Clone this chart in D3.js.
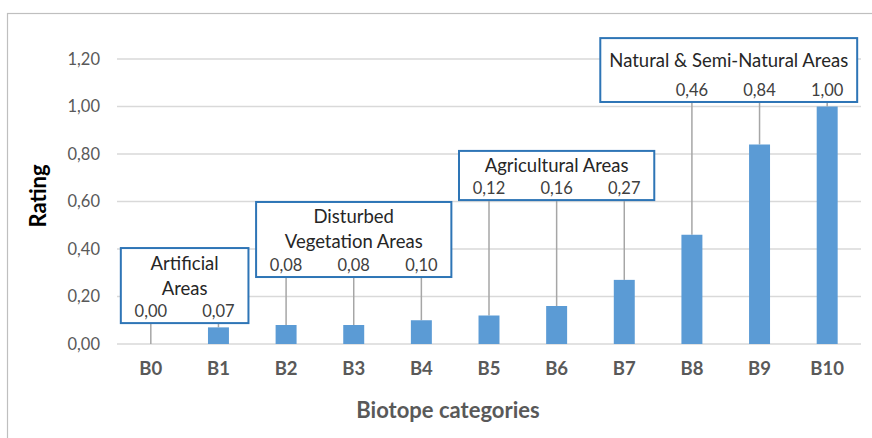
<!DOCTYPE html>
<html>
<head>
<meta charset="utf-8">
<script src="https://cdn.jsdelivr.net/npm/d3@7"></script>
<style>
  body { margin: 0; background: #fff; }
  text { font-family: Lato, "Open Sans", sans-serif; }
</style>
</head>
<body>
<div id="chart"></div>
<script>
// biotope categories and their ratings
var categories = ["B0", "B1", "B2", "B3", "B4", "B5", "B6", "B7", "B8", "B9", "B10"];
var ratings = [0.00, 0.07, 0.08, 0.08, 0.10, 0.12, 0.16, 0.27, 0.46, 0.84, 1.00];
var yTicks = [0, 0.2, 0.4, 0.6, 0.8, 1.0, 1.2];

// callout groups (first/last category index, title lines, box extent in rating units)
var groupNames = [["Artificial", "Areas"], ["Disturbed", "Vegetation Areas"], ["Agricultural Areas"], ["Natural & Semi-Natural Areas"]];
var groupFirst = [0, 2, 5, 8];
var groupLast = [1, 4, 7, 10];
var groupBottom = [0.088, 0.282, 0.606, 1.019];
var groupTop = [0.404, 0.598, 0.813, 1.288];

var W = 872, H = 438;
var margin = { top: 59, right: 11, bottom: 94, left: 117 },
  width = W - margin.left - margin.right,
  height = H - margin.top - margin.bottom;

var fmt = function (v) { return d3.format(".2f")(v).replace(".", ","); };

var svg = d3.select("#chart").append("svg")
  .attr("width", W)
  .attr("height", H);

// outer chart frame
svg.append("rect")
  .attr("x", 7.5).attr("y", 13.5)
  .attr("width", W + 10).attr("height", H)
  .attr("fill", "none")
  .attr("stroke", "#bfbfbf")
  .attr("stroke-width", 1.2);

var x = d3.scaleBand().domain(categories).range([0, width]).paddingInner(0.69).paddingOuter(0.345);
var y = d3.scaleLinear().domain([0, 1.2]).range([height, 0]);

var g = svg.append("g").attr("transform", "translate(" + margin.left + "," + margin.top + ")");

// gridlines
g.append("g")
  .selectAll("line")
  .data(yTicks)
  .enter().append("line")
  .attr("x1", 0).attr("x2", width)
  .attr("y1", function (d) { return y(d); })
  .attr("y2", function (d) { return y(d); })
  .attr("stroke", "#d9d9d9")
  .attr("stroke-width", 1.3);

// y axis labels
var yAxis = d3.axisLeft(y).tickValues(yTicks).tickFormat(fmt).tickSize(0).tickPadding(17);
g.append("g").call(yAxis)
  .call(function (s) { s.select(".domain").remove(); })
  .selectAll("text")
  .style("font-family", "Lato, sans-serif")
  .style("font-size", "16.5px")
  .attr("fill", "#595959");

// x axis labels
var xAxis = d3.axisBottom(x).tickSize(0).tickPadding(18);
g.append("g").attr("transform", "translate(0," + height + ")").call(xAxis)
  .call(function (s) { s.select(".domain").remove(); })
  .selectAll("text")
  .style("font-family", "Lato, sans-serif")
  .style("font-size", "18.5px")
  .style("font-weight", "bold")
  .attr("fill", "#595959");

var cx = function (c) { return x(c) + x.bandwidth() / 2; };

// groups: leader lines, bars, callout boxes
var groupOf = function (i) {
  for (var k = 0; k < groupFirst.length; k++) if (i >= groupFirst[k] && i <= groupLast[k]) return k;
  return -1;
};

g.append("g").selectAll("line")
  .data(categories)
  .enter().append("line")
  .attr("x1", function (d) { return cx(d); })
  .attr("x2", function (d) { return cx(d); })
  .attr("y1", function (d, i) { return y(ratings[i]); })
  .attr("y2", function (d, i) { return y(groupBottom[groupOf(i)]); })
  .attr("stroke", "#a6a6a6")
  .attr("stroke-width", 1.5);

g.append("g").selectAll("rect")
  .data(categories)
  .enter().append("rect")
  .attr("x", function (d) { return x(d); })
  .attr("width", x.bandwidth())
  .attr("y", function (d, i) { return y(ratings[i]); })
  .attr("height", function (d, i) { return height - y(ratings[i]); })
  .attr("fill", "#5b9bd5");

groupNames.forEach(function (lines, k) {
  var left = cx(categories[groupFirst[k]]) - 30;
  var right = cx(categories[groupLast[k]]) + 30;
  var box = g.append("g");
  var top = y(groupTop[k]), bottom = y(groupBottom[k]);
  var rect = box.append("rect")
    .attr("y", top).attr("height", bottom - top)
    .attr("fill", "#fff")
    .attr("stroke", "#2e75b6")
    .attr("stroke-width", 2);

  // title lines centred between box top and the value row
  var mid = (top + bottom - 20) / 2;
  var titles = box.selectAll("text.title")
    .data(lines)
    .enter().append("text")
    .attr("class", "title")
    .attr("y", function (d, j) { return mid + (j - (lines.length - 1) / 2) * 25; })
    .attr("dy", "0.35em")
    .attr("text-anchor", "middle")
    .style("font-size", "18.5px")
    .attr("fill", "#262626")
    .text(function (d) { return d; });

  var maxW = 0;
  titles.each(function () { maxW = Math.max(maxW, this.getComputedTextLength()); });
  if (right - left < maxW + 18) left = right - maxW - 18;
  rect.attr("x", left).attr("width", right - left);
  titles.attr("x", (left + right) / 2);

  var idx = d3.range(groupFirst[k], groupLast[k] + 1);
  box.selectAll("text.val")
    .data(idx)
    .enter().append("text")
    .attr("class", "val")
    .attr("x", function (i) { return cx(categories[i]); })
    .attr("y", bottom - 12)
    .attr("dy", "0.35em")
    .attr("text-anchor", "middle")
    .style("font-size", "16.5px")
    .attr("fill", "#404040")
    .text(function (i) { return fmt(ratings[i]); });
});

// axis titles
svg.append("text")
  .attr("x", 448).attr("y", 418)
  .attr("text-anchor", "middle")
  .style("font-size", "22px")
  .style("font-weight", "bold")
  .attr("fill", "#595959")
  .text("Biotope categories");

svg.append("text")
  .attr("transform", "translate(46,196) rotate(-90)")
  .attr("text-anchor", "middle")
  .style("font-size", "22px")
  .style("font-weight", "bold")
  .attr("fill", "#000")
  .text("Rating");
</script>
</body>
</html>
